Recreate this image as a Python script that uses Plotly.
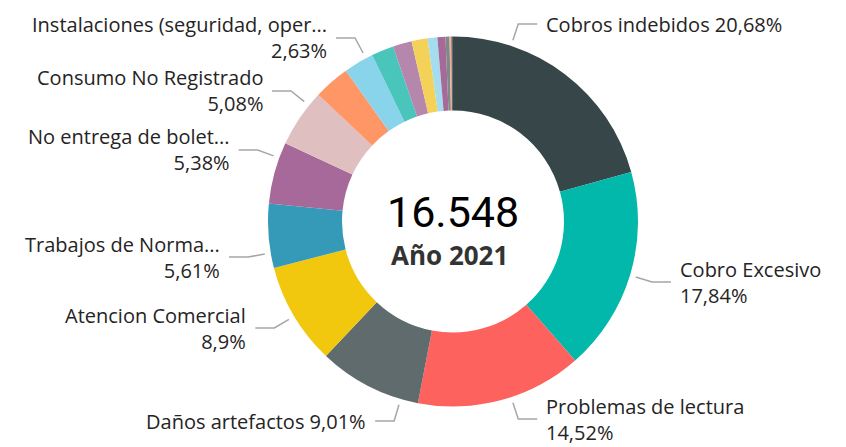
import math
import plotly.graph_objects as go

# ---- data ----
categories = [
    "Cobros indebidos", "Cobro Excesivo", "Problemas de lectura", "Daños artefactos",
    "Atencion Comercial", "Trabajos de Normalización", "No entrega de boletas",
    "Consumo No Registrado", "Otros motivos", "Instalaciones (seguridad, operación)",
    "Motivo 11", "Motivo 12", "Motivo 13", "Motivo 14", "Motivo 15",
    "Motivo 16", "Motivo 17", "Motivo 18",
]
percent_values = [20.68, 17.84, 14.52, 9.01, 8.9, 5.61, 5.38, 5.08, 3.15, 2.63,
                  1.95, 1.65, 1.4, 0.85, 0.7, 0.35, 0.15, 0.15]
slice_colors = ["#374649", "#01B8AA", "#FD625E", "#5F6B6D", "#F2C80F", "#3599B8",
                "#A66999", "#DFBFBF", "#FE9666", "#8AD4EB", "#4AC5BB", "#B687AC",
                "#F4D25A", "#A4DDEE", "#A66999", "#7F898A", "#FDAB89", "#5F6B6D"]
total_text = "16.548"
year_text = "Año 2021"

# labels shown: (category index, display text, side)
label_specs = [
    (0, "Cobros indebidos 20,68%", "right"),
    (1, "Cobro Excesivo<br>17,84%", "right"),
    (2, "Problemas de lectura<br>14,52%", "right"),
    (3, "Daños artefactos 9,01%", "left"),
    (4, "Atencion Comercial<br>8,9%", "left"),
    (5, "Trabajos de Norma...<br>5,61%", "left"),
    (6, "No entrega de bolet...<br>5,38%", "left"),
    (7, "Consumo No Registrado<br>5,08%", "left"),
    (9, "Instalaciones (seguridad, oper...<br>2,63%", "left"),
]
# vertical pixel position of each label's leader row (layout)
label_row_y = [24, 282, 419, 421, 328, 257, 150, 91, 38]

# ---- geometry (layout) ----
W, H = 846, 447
CX, CY, R = 453, 221.5, 185
R_ANCHOR, R_ELBOW, H_SEG, TXT_GAP = 191, 208, 19, 7

def px(x):
    return x / W

def py(y):
    return 1 - y / H

fig = go.Figure(go.Pie(
    labels=categories,
    values=percent_values,
    marker=dict(colors=slice_colors, line=dict(width=0)),
    hole=0.6,
    sort=False,
    direction="clockwise",
    rotation=0,
    textinfo="none",
    hoverinfo="label+percent",
    domain=dict(x=[px(CX - R), px(CX + R)], y=[py(CY + R), py(CY - R)]),
    showlegend=False,
))

annotations = []
shapes = []
font_lbl = dict(family="'Open Sans', Roboto, sans-serif", size=20, color="#252423")
for (idx, text, side), ly in zip(label_specs, label_row_y):
    sgn = 1 if side == "right" else -1
    dy = ly - CY
    dx = math.sqrt(max(R_ELBOW ** 2 - dy ** 2, 0)) * sgn
    ex, ey = CX + dx, ly
    ax = CX + dx * R_ANCHOR / R_ELBOW
    ay = CY + dy * R_ANCHOR / R_ELBOW
    hx = ex + sgn * H_SEG
    shapes.append(dict(
        type="path", xref="paper", yref="paper",
        path=f"M {px(ax)} {py(ay)} L {px(ex)} {py(ey)} L {px(hx)} {py(ey)}",
        line=dict(color="#A6A6A6", width=1.5),
    ))
    annotations.append(dict(
        x=px(hx + sgn * TXT_GAP), y=py(ly), xref="paper", yref="paper",
        text=text, showarrow=False,
        xanchor="left" if side == "right" else "right",
        yanchor="middle", align="left" if side == "right" else "right",
        font=font_lbl,
    ))

annotations.append(dict(
    x=px(CX), y=py(212), xref="paper", yref="paper", text=total_text,
    showarrow=False, xanchor="center", yanchor="middle",
    font=dict(family="Roboto, sans-serif", size=43, color="#000000"),
))
annotations.append(dict(
    x=px(CX - 4), y=py(255), xref="paper", yref="paper", text=f"<b>{year_text}</b>",
    showarrow=False, xanchor="center", yanchor="middle",
    font=dict(family="'Open Sans', Roboto, sans-serif", size=26, color="#333333"),
))

fig.update_layout(
    width=W, height=H,
    margin=dict(l=0, r=0, t=0, b=0),
    paper_bgcolor="white", plot_bgcolor="white",
    annotations=annotations, shapes=shapes,
)

fig.write_html("out.html", config={"displayModeBar": False},
               post_script="document.body.style.margin='0';")
